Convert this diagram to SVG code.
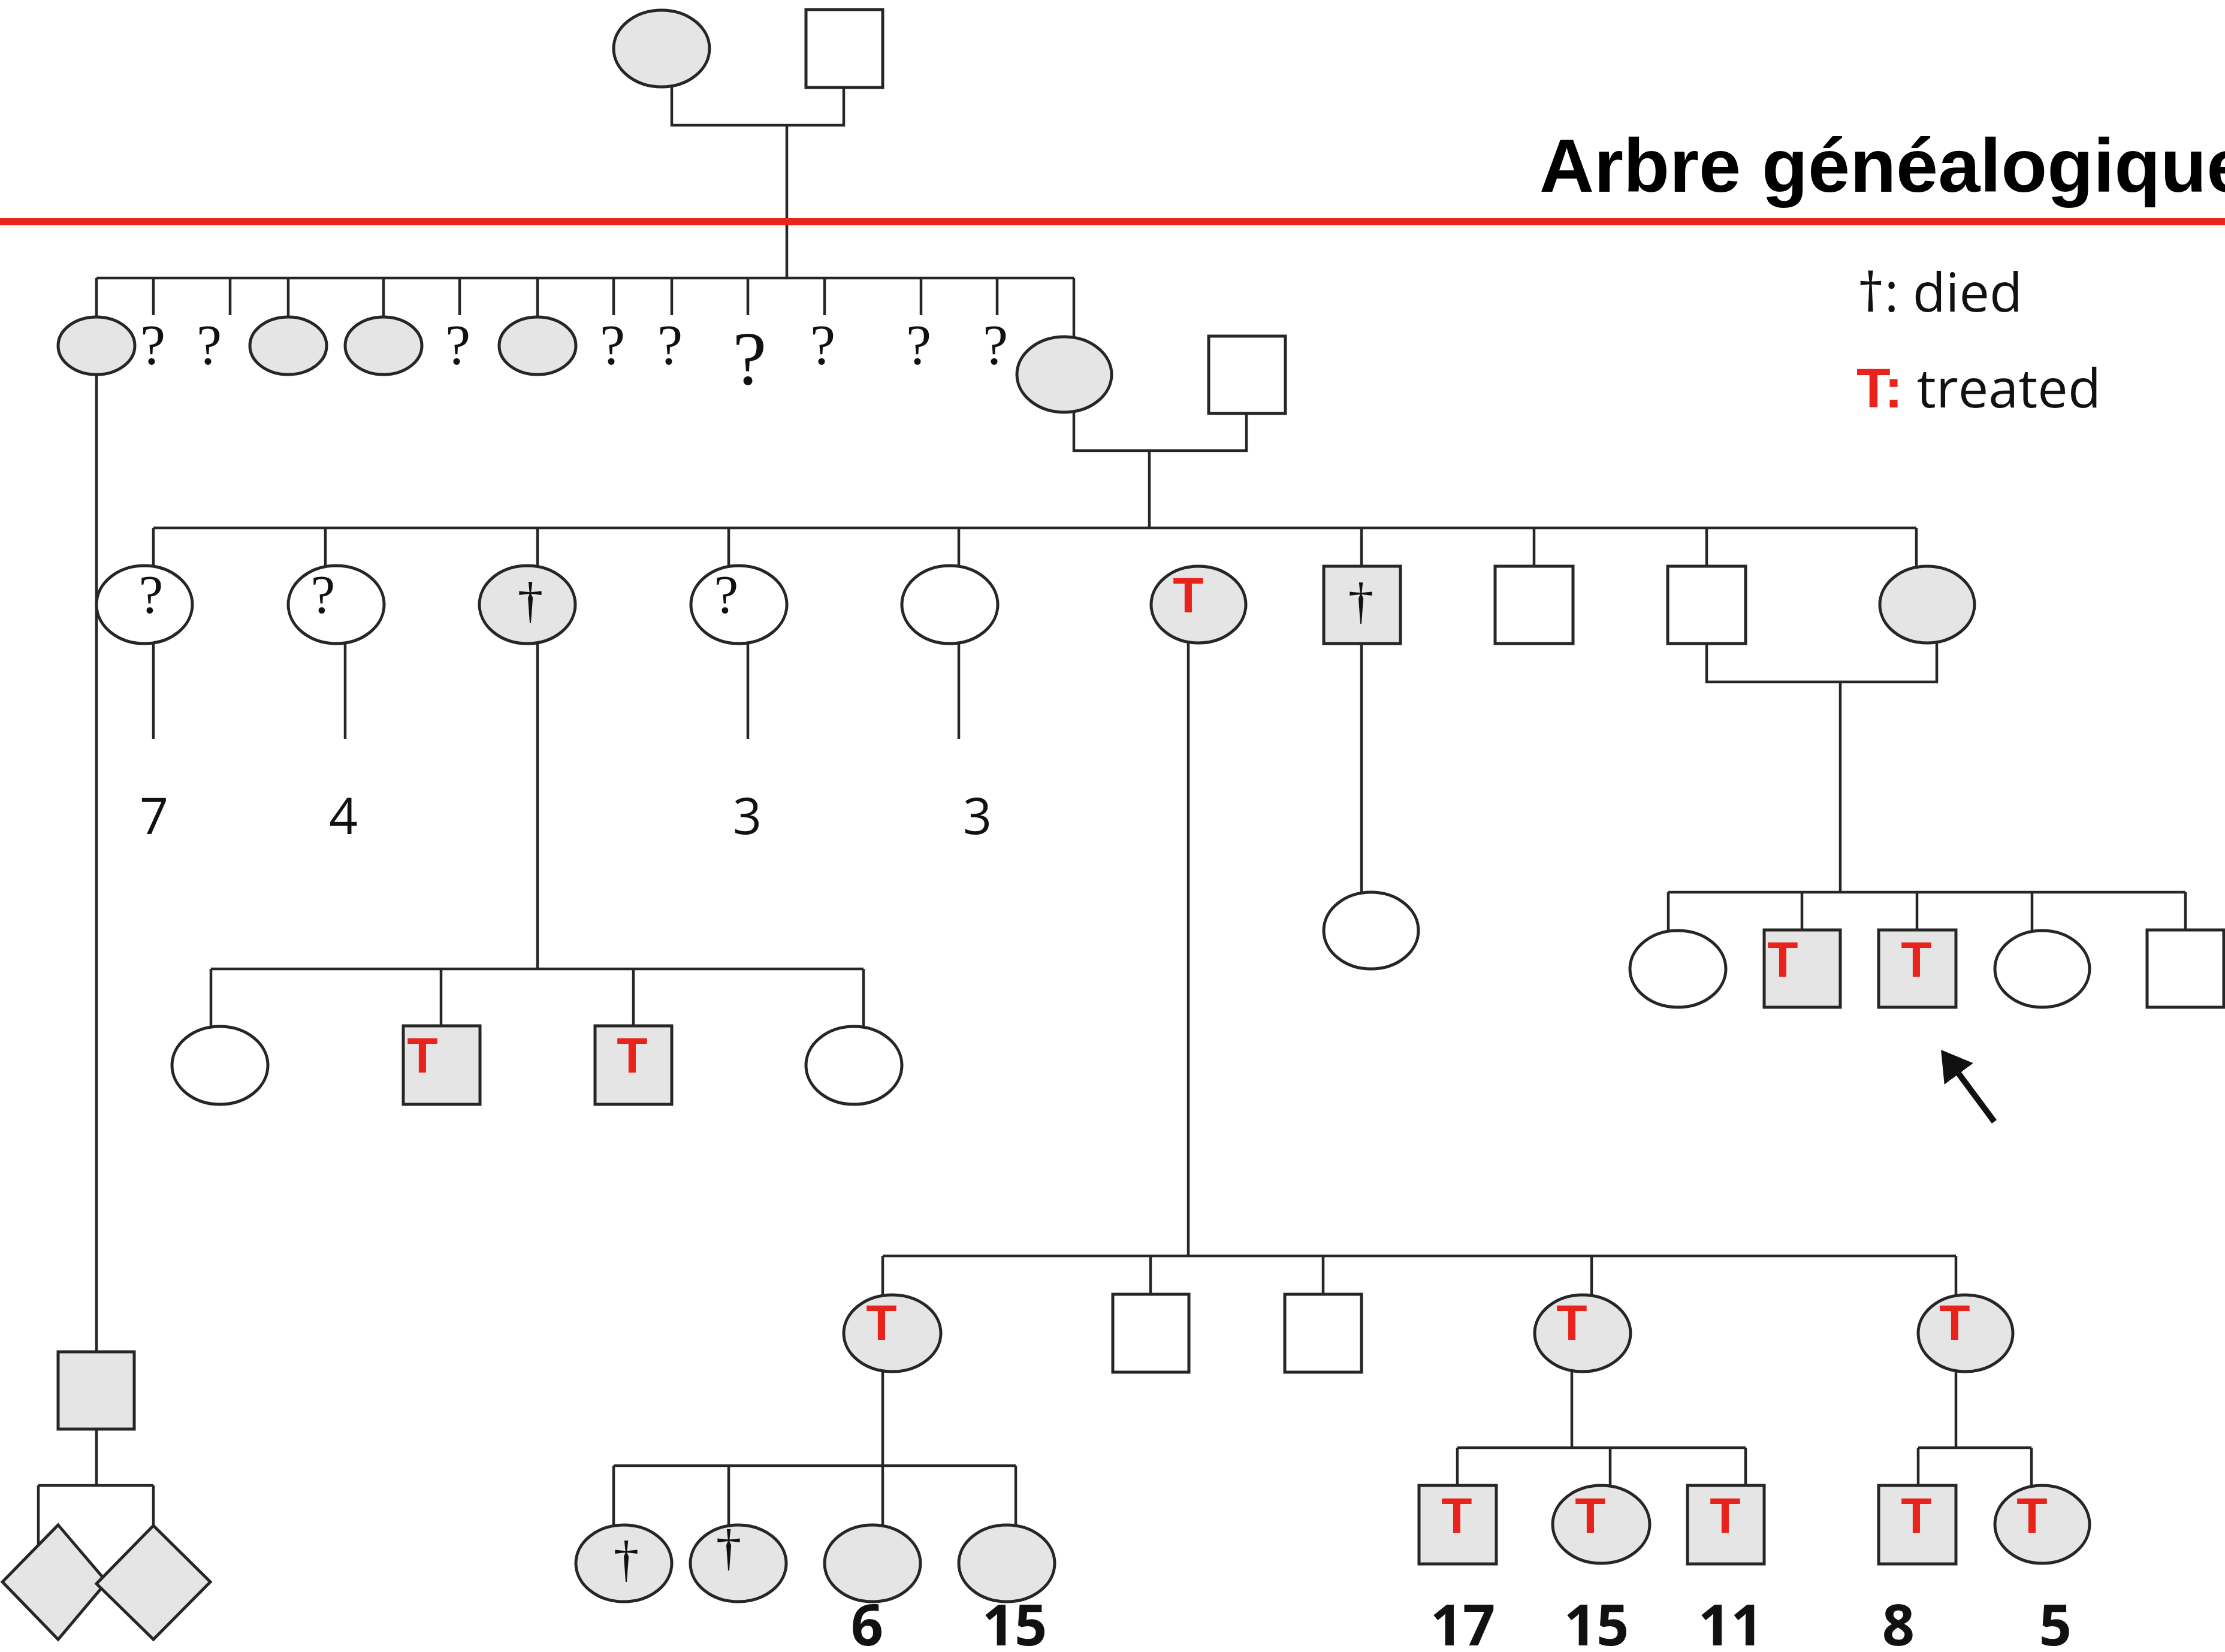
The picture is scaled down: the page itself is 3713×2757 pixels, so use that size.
<svg xmlns="http://www.w3.org/2000/svg" width="3713" height="2757" viewBox="0 0 3713 2757">
<defs>
<style>
.f{fill:#e5e5e5;stroke:#262626;stroke-width:5}
.w{fill:#ffffff;stroke:#262626;stroke-width:5}
.c{fill:none;stroke:#262626;stroke-width:4.5}
.q{font-family:"Liberation Serif",serif;fill:#111;text-anchor:middle}
.dg{font-family:"Liberation Serif",serif;fill:#111;text-anchor:middle;font-size:85px}
.t{font-family:"Liberation Sans",Arial,sans-serif;font-weight:bold;fill:#e8231b;text-anchor:middle;font-size:84px}
.n{font-family:"Open Sans",sans-serif;fill:#111;text-anchor:middle;font-size:84px}
.b{font-family:"Open Sans",sans-serif;font-weight:bold;fill:#111;text-anchor:middle;font-size:95px}
</style>
<marker id="ah" markerWidth="6" markerHeight="6" refX="4" refY="3" orient="auto" markerUnits="strokeWidth">
<path d="M0,0 L5,3 L0,6 Z" fill="#111"/>
</marker>
</defs>
<rect width="3713" height="2757" fill="#ffffff"/>

<g id="connectors">
<path class="c" d="M1121,145 V209 H1408 V146 M1313,209 V464"/>
<path class="c" d="M161,464 H1792 M161,464 V529 M256,464 V526 M384,464 V526 M481,464 V529 M640,464 V529 M767,464 V526 M897,464 V529 M1024,464 V526 M1121,464 V526 M1248,464 V526 M1376,464 V526 M1537,464 V526 M1664,464 V526 M1792,464 V562"/>
<path class="c" d="M161,625 V2256 M161,2385 V2479 M64,2479 H256 M64,2479 V2579 M256,2479 V2546"/>
<path class="c" d="M1792,688 V752 H2080 V690 M1918,752 V881"/>
<path class="c" d="M256,881 H3198 M256,881 V944 M543,881 V944 M897,881 V944 M1216,881 V944 M1600,881 V944 M2272,881 V945 M2560,881 V945 M2848,881 V945 M3198,881 V945"/>
<path class="c" d="M256,1074 V1233 M576,1074 V1233 M1248,1074 V1233 M1600,1074 V1233"/>
<path class="c" d="M897,1074 V1617 M352,1617 H1441 M352,1617 V1713 M736,1617 V1712 M1057,1617 V1712 M1441,1617 V1713"/>
<path class="c" d="M2272,1074 V1489"/>
<path class="c" d="M2848,1074 V1138 H3232 V1073 M3071,1138 V1489 M2784,1489 H3647 M2784,1489 V1553 M3007,1489 V1552 M3199,1489 V1552 M3391,1489 V1553 M3647,1489 V1552"/>
<path class="c" d="M1983,1073 V2096 M1473,2096 H3264 M1473,2096 V2161 M1920,2096 V2160 M2208,2096 V2160 M2656,2096 V2161 M3264,2096 V2161"/>
<path class="c" d="M1473,2289 V2446 M1024,2446 H1695 M1024,2446 V2545 M1216,2446 V2545 M1473,2446 V2545 M1695,2446 V2545"/>
<path class="c" d="M2623,2289 V2416 M2432,2416 H2913 M2432,2416 V2479 M2687,2416 V2479 M2913,2416 V2479"/>
<path class="c" d="M3264,2289 V2416 M3201,2416 H3390 M3201,2416 V2479 M3390,2416 V2479"/>
<line x1="3328" y1="1872" x2="3245" y2="1760" stroke="#111" stroke-width="10" marker-end="url(#ah)"/>
</g>

<rect x="0" y="364" width="3713" height="12" fill="#e8261c"/>
<text x="2569" y="320" font-family="Liberation Sans, Arial, sans-serif" font-weight="bold" font-size="126" fill="#000">Arbre généalogique</text>

<g id="legend">
<text x="3099" y="520" font-family="Open Sans, sans-serif" font-size="90" fill="#111">†: died</text>
<text x="3098" y="680" font-family="Open Sans, sans-serif" font-size="90" fill="#111"><tspan font-family="Liberation Sans, Arial, sans-serif" font-weight="bold" font-size="93" fill="#e8231b">T:</tspan> treated</text>
</g>

<g id="gen1-mother"><ellipse class="f" cx="1104" cy="81" rx="80" ry="64"/></g>
<g id="gen1-father"><rect class="w" x="1345" y="16" width="128" height="130"/></g>

<g id="gen2-1"><ellipse class="f" cx="161" cy="577" rx="64" ry="48"/></g>
<g id="gen2-2"><text class="q" x="255" y="608" font-size="95">?</text></g>
<g id="gen2-3"><text class="q" x="349" y="608" font-size="95">?</text></g>
<g id="gen2-4"><ellipse class="f" cx="481" cy="577" rx="64" ry="48"/></g>
<g id="gen2-5"><ellipse class="f" cx="640" cy="577" rx="64" ry="48"/></g>
<g id="gen2-6"><text class="q" x="764" y="608" font-size="95">?</text></g>
<g id="gen2-7"><ellipse class="f" cx="897" cy="577" rx="64" ry="48"/></g>
<g id="gen2-8"><text class="q" x="1022" y="608" font-size="95">?</text></g>
<g id="gen2-9"><text class="q" x="1118" y="608" font-size="95">?</text></g>
<g id="gen2-10"><text class="q" x="1251" y="641" font-size="128">?</text></g>
<g id="gen2-11"><text class="q" x="1373" y="608" font-size="95">?</text></g>
<g id="gen2-12"><text class="q" x="1533" y="608" font-size="95">?</text></g>
<g id="gen2-13"><text class="q" x="1661" y="608" font-size="95">?</text></g>
<g id="gen2-14"><ellipse class="f" cx="1776" cy="625" rx="79" ry="63"/></g>
<g id="gen2-spouse"><rect class="w" x="2017" y="561" width="128" height="129"/></g>

<g id="gen3-1"><ellipse class="w" cx="241" cy="1009" rx="80" ry="65"/><text class="q" x="252" y="1023" font-size="92">?</text><text class="n" x="257" y="1392">7</text></g>
<g id="gen3-2"><ellipse class="w" cx="561" cy="1009" rx="80" ry="65"/><text class="q" x="539" y="1023" font-size="92">?</text><text class="n" x="573" y="1392">4</text></g>
<g id="gen3-3"><ellipse class="f" cx="880" cy="1009" rx="80" ry="65"/><text class="dg" x="885" y="1030">†</text></g>
<g id="gen3-4"><ellipse class="w" cx="1233" cy="1009" rx="80" ry="65"/><text class="q" x="1212" y="1023" font-size="92">?</text><text class="n" x="1247" y="1392">3</text></g>
<g id="gen3-5"><ellipse class="w" cx="1585" cy="1009" rx="80" ry="65"/><text class="n" x="1631" y="1392">3</text></g>
<g id="gen3-6"><ellipse class="f" cx="2000" cy="1009" rx="79" ry="64"/><text class="t" x="1983" y="1022">T</text></g>
<g id="gen3-7"><rect class="f" x="2209" y="945" width="128" height="129"/><text class="dg" x="2271" y="1031" font-size="92">†</text></g>
<g id="gen3-8"><rect class="w" x="2495" y="945" width="130" height="129"/></g>
<g id="gen3-9"><rect class="w" x="2783" y="945" width="130" height="129"/></g>
<g id="gen3-10"><ellipse class="f" cx="3216" cy="1009" rx="79" ry="64"/></g>

<g id="gen4a-1"><ellipse class="w" cx="367" cy="1778" rx="80" ry="65"/></g>
<g id="gen4a-2"><rect class="f" x="673" y="1712" width="128" height="131"/><text class="t" x="705" y="1790">T</text></g>
<g id="gen4a-3"><rect class="f" x="993" y="1712" width="128" height="131"/><text class="t" x="1055" y="1790">T</text></g>
<g id="gen4a-4"><ellipse class="w" cx="1425" cy="1778" rx="80" ry="65"/></g>

<g id="gen4b-1"><ellipse class="w" cx="2288" cy="1553" rx="79" ry="64"/></g>

<g id="gen4c-1"><ellipse class="w" cx="2800" cy="1617" rx="80" ry="64"/></g>
<g id="gen4c-2"><rect class="f" x="2944" y="1552" width="127" height="129"/><text class="t" x="2975" y="1630">T</text></g>
<g id="gen4c-3"><rect class="f" x="3135" y="1552" width="129" height="129"/><text class="t" x="3198" y="1630">T</text></g>
<g id="gen4c-4"><ellipse class="w" cx="3408" cy="1617" rx="79" ry="64"/></g>
<g id="gen4c-5"><rect class="w" x="3583" y="1552" width="128" height="129"/></g>

<g id="gen4d-1"><ellipse class="f" cx="1489" cy="2225" rx="81" ry="64"/><text class="t" x="1471" y="2236">T</text></g>
<g id="gen4d-2"><rect class="w" x="1857" y="2160" width="127" height="130"/></g>
<g id="gen4d-3"><rect class="w" x="2144" y="2160" width="128" height="130"/></g>
<g id="gen4d-4"><ellipse class="f" cx="2641" cy="2225" rx="80" ry="64"/><text class="t" x="2623" y="2236">T</text></g>
<g id="gen4d-5"><ellipse class="f" cx="3280" cy="2225" rx="79" ry="64"/><text class="t" x="3262" y="2236">T</text></g>

<g id="gen5a-1"><ellipse class="f" cx="1041" cy="2609" rx="80" ry="64"/><text class="dg" x="1045" y="2630" font-size="78">†</text></g>
<g id="gen5a-2"><ellipse class="f" cx="1232" cy="2609" rx="80" ry="64"/><text class="dg" x="1216" y="2611" font-size="82">†</text></g>
<g id="gen5a-3"><ellipse class="f" cx="1456" cy="2609" rx="80" ry="64"/><text class="b" x="1447" y="2746">6</text></g>
<g id="gen5a-4"><ellipse class="f" cx="1680" cy="2609" rx="80" ry="64"/><text class="b" x="1693" y="2746">15</text></g>

<g id="gen5b-1"><rect class="f" x="2368" y="2479" width="129" height="131"/><text class="t" x="2431" y="2558">T</text><text class="b" x="2441" y="2746">17</text></g>
<g id="gen5b-2"><ellipse class="f" cx="2672" cy="2544" rx="81" ry="65"/><text class="t" x="2654" y="2558">T</text><text class="b" x="2664" y="2746">15</text></g>
<g id="gen5b-3"><rect class="f" x="2816" y="2479" width="128" height="131"/><text class="t" x="2879" y="2558">T</text><text class="b" x="2888" y="2746">11</text></g>
<g id="gen5c-1"><rect class="f" x="3135" y="2479" width="129" height="131"/><text class="t" x="3198" y="2558">T</text><text class="b" x="3168" y="2746">8</text></g>
<g id="gen5c-2"><ellipse class="f" cx="3408" cy="2544" rx="79" ry="65"/><text class="t" x="3391" y="2558">T</text><text class="b" x="3430" y="2746">5</text></g>

<g id="left-male"><rect class="f" x="97" y="2256" width="127" height="129"/></g>
<g id="left-twin-1"><path class="f" d="M97,2545 L178,2640 L97,2736 L4,2640 Z"/></g>
<g id="left-twin-2"><path class="f" d="M256,2546 L351,2640 L256,2736 L161,2643 Z"/></g>
</svg>
